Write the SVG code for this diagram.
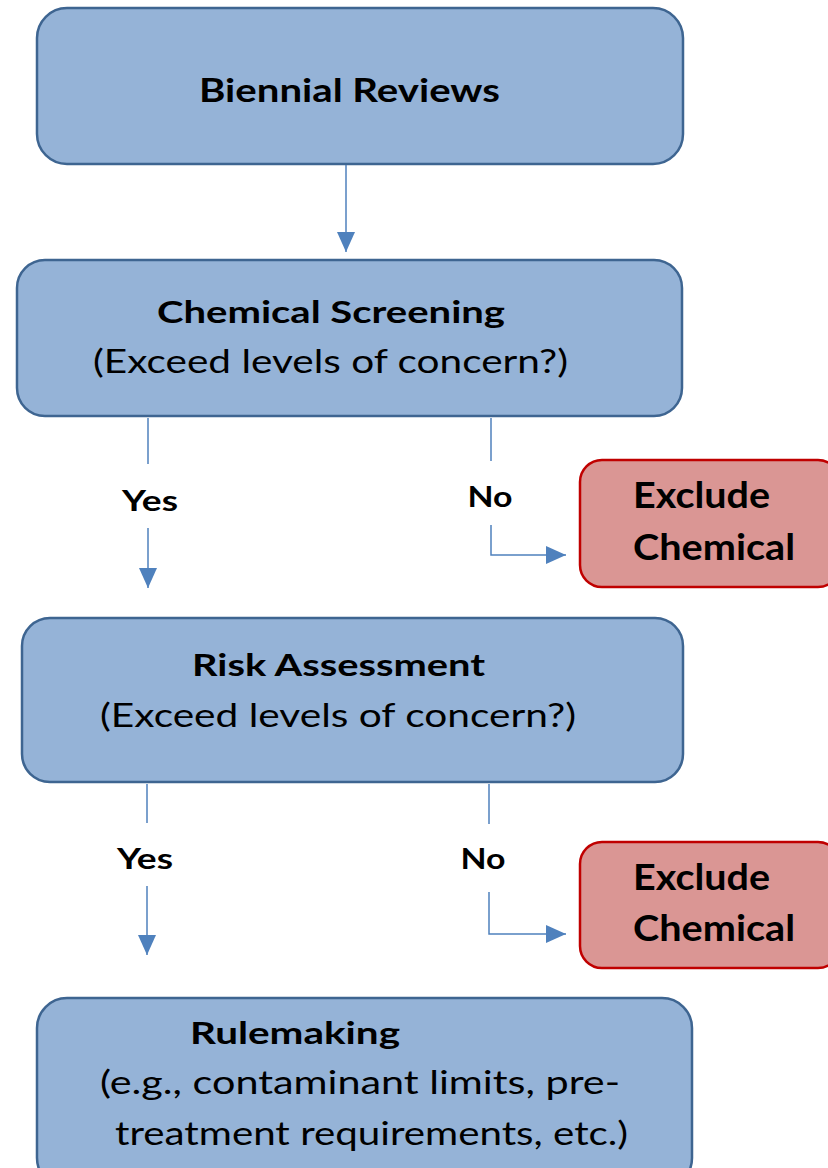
<svg xmlns="http://www.w3.org/2000/svg" width="828" height="1168" viewBox="0 0 828 1168">
<defs>
<style>
.blue{fill:#95B3D7;stroke:#3E6591;stroke-width:2.5}
.red{fill:#DA9694;stroke:#C00000;stroke-width:2.5}
.b{font-family:Lato,"Liberation Sans",sans-serif;font-weight:bold;fill:#000}
.r{font-family:Lato,"Liberation Sans",sans-serif;font-weight:normal;fill:#000}
.ln{fill:none;stroke:#4F81BD;stroke-width:1.5}
</style>
<marker id="ah" viewBox="0 0 20 20" refX="20" refY="10" markerWidth="20" markerHeight="20" markerUnits="userSpaceOnUse" orient="auto">
<path d="M0,1 L20,10 L0,19 Z" fill="#4F81BD"/>
</marker>
</defs>
<rect width="828" height="1168" fill="#fff"/>
<g id="n-biennial">
<rect class="blue" x="37" y="8" width="646" height="156" rx="30"/>
<text class="b" x="199" y="102" font-size="32" textLength="301" lengthAdjust="spacingAndGlyphs">Biennial Reviews</text>
</g>
<g id="n-screening">
<rect class="blue" x="17" y="260" width="665" height="156" rx="28"/>
<text class="b" x="157" y="323" font-size="30" textLength="348" lengthAdjust="spacingAndGlyphs">Chemical Screening</text>
<text class="r" x="93" y="373" font-size="32" textLength="475" lengthAdjust="spacingAndGlyphs">(Exceed levels of concern?)</text>
</g>
<g id="n-exclude1">
<rect class="red" x="580" y="460" width="260" height="127" rx="22"/>
<text class="b" x="633" y="508" font-size="36" textLength="137" lengthAdjust="spacingAndGlyphs">Exclude</text>
<text class="b" x="633" y="560" font-size="36" textLength="162" lengthAdjust="spacingAndGlyphs">Chemical</text>
</g>
<g id="n-risk">
<rect class="blue" x="22" y="618" width="661" height="164" rx="28"/>
<text class="b" x="192" y="676" font-size="30" textLength="293" lengthAdjust="spacingAndGlyphs">Risk Assessment</text>
<text class="r" x="100" y="727" font-size="32" textLength="476" lengthAdjust="spacingAndGlyphs">(Exceed levels of concern?)</text>
</g>
<g id="n-exclude2">
<rect class="red" x="580" y="842" width="260" height="126" rx="22"/>
<text class="b" x="633" y="890" font-size="36" textLength="137" lengthAdjust="spacingAndGlyphs">Exclude</text>
<text class="b" x="633" y="941" font-size="36" textLength="162" lengthAdjust="spacingAndGlyphs">Chemical</text>
</g>
<g id="n-rulemaking">
<rect class="blue" x="37" y="998" width="655" height="190" rx="30"/>
<text class="b" x="190" y="1044" font-size="31" textLength="210" lengthAdjust="spacingAndGlyphs">Rulemaking</text>
<text class="r" x="100" y="1094" font-size="32" textLength="520" lengthAdjust="spacingAndGlyphs">(e.g., contaminant limits, pre-</text>
<text class="r" x="115" y="1145" font-size="32" textLength="513" lengthAdjust="spacingAndGlyphs">treatment requirements, etc.)</text>
</g>
<g id="connectors">
<line class="ln" x1="346" y1="165" x2="346" y2="252" marker-end="url(#ah)"/>
<line class="ln" x1="148" y1="418" x2="148" y2="464"/>
<text class="b" x="150" y="511" font-size="28" text-anchor="middle" textLength="56" lengthAdjust="spacingAndGlyphs">Yes</text>
<line class="ln" x1="148" y1="528" x2="148" y2="588" marker-end="url(#ah)"/>
<line class="ln" x1="491" y1="418" x2="491" y2="461"/>
<text class="b" x="490" y="507" font-size="28" text-anchor="middle" textLength="45" lengthAdjust="spacingAndGlyphs">No</text>
<path class="ln" d="M491,525 V555 H566" marker-end="url(#ah)"/>
<line class="ln" x1="147" y1="784" x2="147" y2="823"/>
<text class="b" x="145" y="869" font-size="28" text-anchor="middle" textLength="56" lengthAdjust="spacingAndGlyphs">Yes</text>
<line class="ln" x1="147" y1="886" x2="147" y2="955" marker-end="url(#ah)"/>
<line class="ln" x1="489" y1="784" x2="489" y2="824"/>
<text class="b" x="483" y="869" font-size="28" text-anchor="middle" textLength="45" lengthAdjust="spacingAndGlyphs">No</text>
<path class="ln" d="M489,892 V934 H566" marker-end="url(#ah)"/>
</g>
</svg>
